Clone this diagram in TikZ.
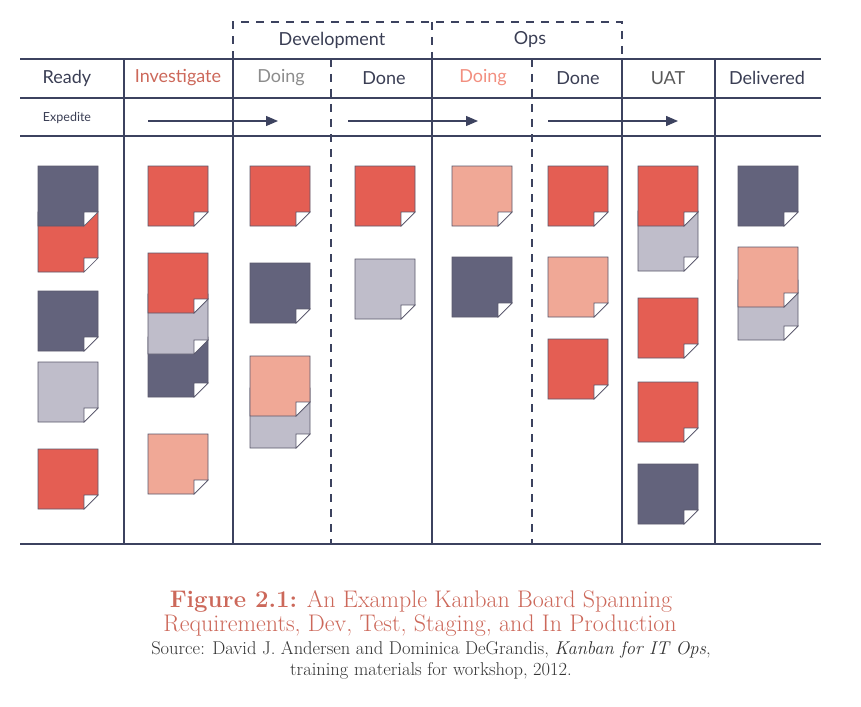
\documentclass[tikz,border=0pt]{standalone}
\usepackage{fontspec}
\setsansfont{Lato}
\usetikzlibrary{arrows.meta}

\definecolor{boardline}{RGB}{60,66,95}
\definecolor{darknote}{RGB}{99,99,124}
\definecolor{rednote}{RGB}{228,94,83}
\definecolor{salmonnote}{RGB}{240,168,150}
\definecolor{greynote}{RGB}{191,189,202}
\definecolor{noteline}{RGB}{90,88,108}
\definecolor{captionred}{RGB}{204,104,90}
\definecolor{headdark}{RGB}{58,62,84}

% one sticky note, top left corner at (#1,#2)
\newcommand{\stickynote}[3]{%
  \draw[sticky, fill=#3] (#1,#2) -- ++(60,0) -- ++(0,46) -- ++(-14,14) -- ++(-46,0) -- cycle;
  \draw[sticky, fill=white] (#1+46,#2+46) -- ++(14,0) -- ++(-14,14) -- cycle;}

\begin{document}
\begin{tikzpicture}[x=1pt,y=-1pt,
  board/.style={draw=boardline,line width=1.4pt},
  boarddash/.style={board,dash pattern=on 8pt off 7pt},
  sticky/.style={draw=noteline,line width=0.7pt},
  head/.style={font=\sffamily\fontsize{18}{20}\selectfont,text=headdark,inner sep=0pt},
  expedite arrow/.style={draw=boardline,line width=1.3pt,-{Triangle[length=12pt,width=10pt]}},
  caption/.style={font=\fontsize{24}{26}\selectfont,text=captionred,anchor=base,inner sep=0pt},
  source/.style={font=\fontsize{18.5}{20}\selectfont,text=black!80,anchor=base,inner sep=0pt}]

  \useasboundingbox (0,0) rectangle (861,706);

  % board lines
  \draw[board] (20,59) -- (821,59);
  \draw[board] (20,98) -- (821,98);
  \draw[board] (20,136) -- (821,136);
  \draw[board] (20,544) -- (821,544);
  \draw[board] (124,59) -- (124,544);
  \draw[board] (233,59) -- (233,544);
  \draw[board] (432,59) -- (432,544);
  \draw[board] (622,59) -- (622,544);
  \draw[board] (715,59) -- (715,544);
  \draw[boarddash] (331,59) -- (331,544);
  \draw[boarddash] (532,59) -- (532,544);

  % Development / Ops frame
  \draw[boarddash] (233,59) -- (233,22) -- (622,22) -- (622,59);
  \draw[boarddash] (432,22) -- (432,59);

  \node[head] (development) at (332,40) {Development};
  \node[head] (ops)         at (530,40) {Ops};

  \node[head] (ready)       at (67,78)  {Ready};
  \node[head, text=captionred] (investigate) at (178,78) {Investigate};
  \node[head, text=black!45] (devdoing) at (281,78) {Doing};
  \node[head] (devdone)     at (384,78) {Done};
  \node[head, text=salmonnote!85!red] (opsdoing) at (483,78) {Doing};
  \node[head] (opsdone)     at (578,78) {Done};
  \node[head, text=black!65] (uat) at (668,78) {UAT};
  \node[head] (delivered)   at (767,78) {Delivered};

  \node[head, font=\sffamily\fontsize{12.5}{14}\selectfont] (expedite) at (67,118) {Expedite};

  % expedite lane
  \coordinate (lane1 start) at (148,121);
  \coordinate (lane1 end)   at (278,121);
  \coordinate (lane2 start) at (348,121);
  \coordinate (lane2 end)   at (478,121);
  \coordinate (lane3 start) at (548,121);
  \coordinate (lane3 end)   at (678,121);
  \draw[expedite arrow] (lane1 start) -- (lane1 end);
  \draw[expedite arrow] (lane2 start) -- (lane2 end);
  \draw[expedite arrow] (lane3 start) -- (lane3 end);

  % Ready
  \stickynote{38}{212}{rednote}
  \stickynote{38}{166}{darknote}
  \stickynote{38}{291}{darknote}
  \stickynote{38}{362}{greynote}
  \stickynote{38}{449}{rednote}

  % Investigate
  \stickynote{148}{166}{rednote}
  \stickynote{148}{337}{darknote}
  \stickynote{148}{294}{greynote}
  \stickynote{148}{253}{rednote}
  \stickynote{148}{434}{salmonnote}

  % Development doing
  \stickynote{250}{166}{rednote}
  \stickynote{250}{263}{darknote}
  \stickynote{250}{388}{greynote}
  \stickynote{250}{356}{salmonnote}

  % Development done
  \stickynote{355}{166}{rednote}
  \stickynote{355}{259}{greynote}

  % Ops doing
  \stickynote{452}{166}{salmonnote}
  \stickynote{452}{257}{darknote}

  % Ops done
  \stickynote{548}{166}{rednote}
  \stickynote{548}{257}{salmonnote}
  \stickynote{548}{339}{rednote}

  % UAT
  \stickynote{638}{211}{greynote}
  \stickynote{638}{166}{rednote}
  \stickynote{638}{298}{rednote}
  \stickynote{638}{382}{rednote}
  \stickynote{638}{464}{darknote}

  % Delivered
  \stickynote{738}{166}{darknote}
  \stickynote{738}{280}{greynote}
  \stickynote{738}{247}{salmonnote}

  % caption
  \node[caption] (caption1) at (421,607) {\textbf{Figure 2.1:} An Example Kanban Board Spanning};
  \node[caption] (caption2) at (420,631) {Requirements, Dev, Test, Staging, and In Production};
  \node[source] (source1) at (431,654) {Source: David J. Andersen and Dominica DeGrandis, \textit{Kanban for IT Ops},};
  \node[source] (source2) at (431,675) {training materials for workshop, 2012.};
\end{tikzpicture}
\end{document}
